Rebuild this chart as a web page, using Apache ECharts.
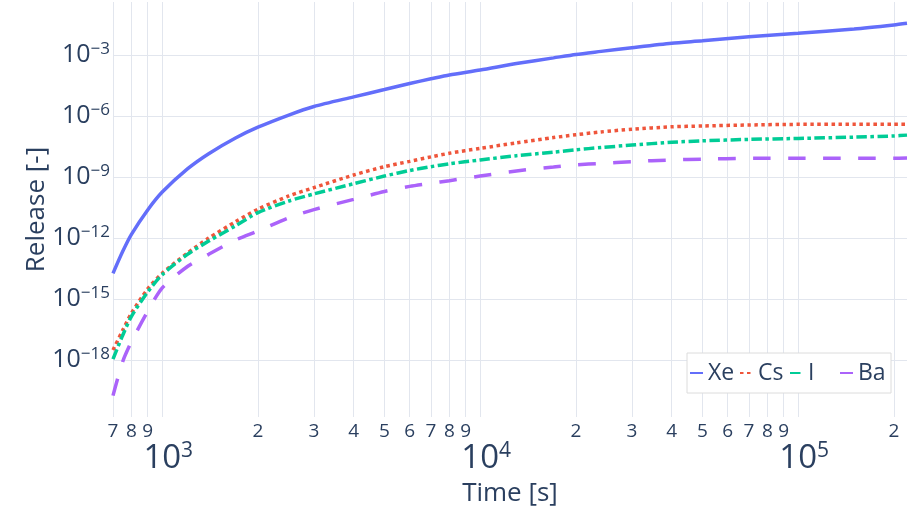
<!DOCTYPE html>
<html>
<head>
<meta charset="utf-8">
<script src="https://cdn.jsdelivr.net/npm/echarts@6/dist/echarts.min.js"></script>
<style>
  html, body { margin: 0; padding: 0; background: #fff; }
  #chart { width: 912px; height: 507px; }
</style>
</head>
<body>
<div id="chart"></div>
<script>
const FONT = '"Open Sans", "Noto Sans", sans-serif';
const TEXT = '#2a3f5f';
const GRID = '#e2e6ee';

// time [s]
const times = [700, 750, 800, 900, 1000, 1200, 1400, 1700, 2000, 2500, 3000, 4000, 5000, 6000, 7000, 8000,
    10000, 13000, 17000, 20000, 24000, 30000, 40000, 50000, 70000, 100000, 150000, 200000, 220000];

// release [-]
const xe = [1.82e-14, 2.09e-13, 1.51e-12, 2.40e-11, 1.82e-10, 2.51e-9, 1.41e-8, 8.32e-8, 2.82e-7, 1.12e-6,
    2.95e-6, 8.71e-6, 2.00e-5, 3.98e-5, 6.76e-5, 1.05e-4, 1.82e-4, 3.80e-4, 7.24e-4, 1.07e-3, 1.51e-3,
    2.29e-3, 3.80e-3, 5.01e-3, 7.94e-3, 1.17e-2, 1.91e-2, 3.02e-2, 3.63e-2];
const cs = [3.09e-18, 2.82e-17, 2.00e-16, 3.16e-15, 1.86e-14, 1.82e-13, 1.00e-12, 6.31e-12, 2.63e-11, 1.17e-10,
    3.02e-10, 1.26e-9, 3.24e-9, 5.89e-9, 9.77e-9, 1.48e-8, 2.57e-8, 4.79e-8, 8.71e-8, 1.20e-7, 1.66e-7,
    2.24e-7, 2.95e-7, 3.24e-7, 3.63e-7, 3.89e-7, 3.89e-7, 3.89e-7, 3.89e-7];
const iodine = [1.12e-18, 1.58e-17, 1.41e-16, 2.24e-15, 1.58e-14, 1.58e-13, 7.08e-13, 3.98e-12, 1.78e-11, 6.61e-11,
    1.48e-10, 4.68e-10, 1.12e-9, 2.09e-9, 3.24e-9, 4.47e-9, 6.92e-9, 1.12e-8, 1.66e-8, 2.19e-8, 2.82e-8,
    3.72e-8, 5.13e-8, 6.03e-8, 7.08e-8, 7.94e-8, 9.12e-8, 1.05e-7, 1.15e-7];
const ba = [1.78e-20, 7.94e-19, 7.94e-18, 2.51e-16, 3.55e-15, 3.98e-14, 1.58e-13, 7.94e-13, 2.24e-12, 1.00e-11,
    2.51e-11, 7.94e-11, 1.95e-10, 3.47e-10, 5.01e-10, 6.61e-10, 1.12e-9, 2.00e-9, 3.09e-9, 3.98e-9, 4.68e-9,
    5.75e-9, 6.92e-9, 7.59e-9, 8.32e-9, 8.32e-9, 8.32e-9, 8.32e-9, 8.51e-9];

// axis ticks
const xGridTicks = [700, 800, 900, 1000, 2000, 3000, 4000, 5000, 6000, 7000, 8000, 9000, 10000,
    20000, 30000, 40000, 50000, 60000, 70000, 80000, 90000, 100000, 200000];
const xMinorLabels = [700, 800, 900, 2000, 3000, 4000, 5000, 6000, 7000, 8000, 9000,
    20000, 30000, 40000, 50000, 60000, 70000, 80000, 90000, 200000];
const xMajorLabels = [1000, 10000, 100000];
const yTicks = [1e-3, 1e-6, 1e-9, 1e-12, 1e-15, 1e-18];

const X_MIN = 700, X_MAX = 220000;
const Y_MIN = 1.585e-21, Y_MAX = 0.4046;

const exponent = (v) => Math.round(Math.log10(v));
const supText = (n) => (n < 0 ? '\u2212' + (-n) : String(n));

function lineSeries(name, data, color, type) {
    return {
        name,
        type: 'line',
        symbol: 'none',
        smooth: 0.25,
        data: times.map((t, i) => [t, data[i]]),
        lineStyle: { color, width: 3.5, type },
        itemStyle: { color },
    };
}

const chart = echarts.init(document.getElementById('chart'), null, { renderer: 'canvas' });
chart.setOption({
    animation: false,
    backgroundColor: '#fff',
    textStyle: { fontFamily: FONT, color: TEXT },
    grid: { left: 113, right: 5, top: 2, bottom: 90, outerBoundsMode: 'none' },
    legend: {
        data: ['Xe', 'Cs', 'I', 'Ba'],
        left: 687,
        top: 353,
        orient: 'horizontal',
        selectedMode: false,
        backgroundColor: '#fff',
        borderColor: '#dcdcdc',
        borderWidth: 1,
        padding: [8, 3, 8, 2],
        itemWidth: 13,
        itemHeight: 14,
        itemGap: 1,
        itemStyle: { opacity: 0 },
        textStyle: { fontFamily: FONT, color: TEXT, fontSize: 23, width: 30, lineHeight: 24 },
    },
    xAxis: [
        {
            type: 'log',
            logBase: 10,
            min: X_MIN,
            max: X_MAX,
            position: 'bottom',
            name: 'Time [s]',
            nameLocation: 'middle',
            nameGap: 64,
            nameMoveOverlap: false,
            nameTextStyle: { fontFamily: FONT, color: TEXT, fontSize: 26 },
            axisLine: { show: false },
            axisTick: { show: false, customValues: xGridTicks },
            axisLabel: {
                customValues: xMinorLabels,
                margin: 5,
                fontFamily: FONT,
                fontSize: 19,
                color: TEXT,
                formatter: (v) => String(Math.round(v / Math.pow(10, Math.floor(Math.log10(v) + 1e-9)))),
            },
            splitLine: { show: true, lineStyle: { color: GRID, width: 1 } },
        },
        {
            type: 'log',
            logBase: 10,
            min: X_MIN,
            max: X_MAX,
            position: 'bottom',
            axisLine: { show: false },
            axisTick: { show: false, customValues: xMajorLabels },
            axisLabel: {
                customValues: xMajorLabels,
                margin: 24,
                formatter: (v) => '{b|10}{s|' + supText(exponent(v)) + '}',
                rich: {
                    b: { fontFamily: FONT, fontSize: 33, color: TEXT, lineHeight: 36, padding: [0, 0, 0, 12] },
                    s: { fontFamily: FONT, fontSize: 21, color: TEXT, verticalAlign: 'top', lineHeight: 36 },
                },
            },
            splitLine: { show: false },
        },
    ],
    yAxis: {
        type: 'log',
        logBase: 10,
        min: Y_MIN,
        max: Y_MAX,
        name: 'Release [-]',
        nameLocation: 'middle',
        nameGap: 63,
        nameMoveOverlap: false,
        nameTextStyle: { fontFamily: FONT, color: TEXT, fontSize: 26 },
        axisLine: { show: false },
        axisTick: { show: false, customValues: yTicks },
        axisLabel: {
            customValues: yTicks,
            margin: 3,
            formatter: (v) => '{b|10}{s|' + supText(exponent(v)) + '}',
            rich: {
                b: { fontFamily: FONT, fontSize: 25, color: TEXT, lineHeight: 28 },
                s: { fontFamily: FONT, fontSize: 17, color: TEXT, verticalAlign: 'top', lineHeight: 28 },
            },
        },
        splitLine: { show: true, lineStyle: { color: GRID, width: 1 } },
    },
    series: [
        lineSeries('Xe', xe, '#636efa', 'solid'),
        lineSeries('Cs', cs, '#EF553B', [3.5, 3.5]),
        lineSeries('I', iodine, '#00cc96', [10.5, 3.5, 3.5, 3.5]),
        lineSeries('Ba', ba, '#ab63fa', [17.5, 17.5]),
    ],
});
</script>
</body>
</html>
